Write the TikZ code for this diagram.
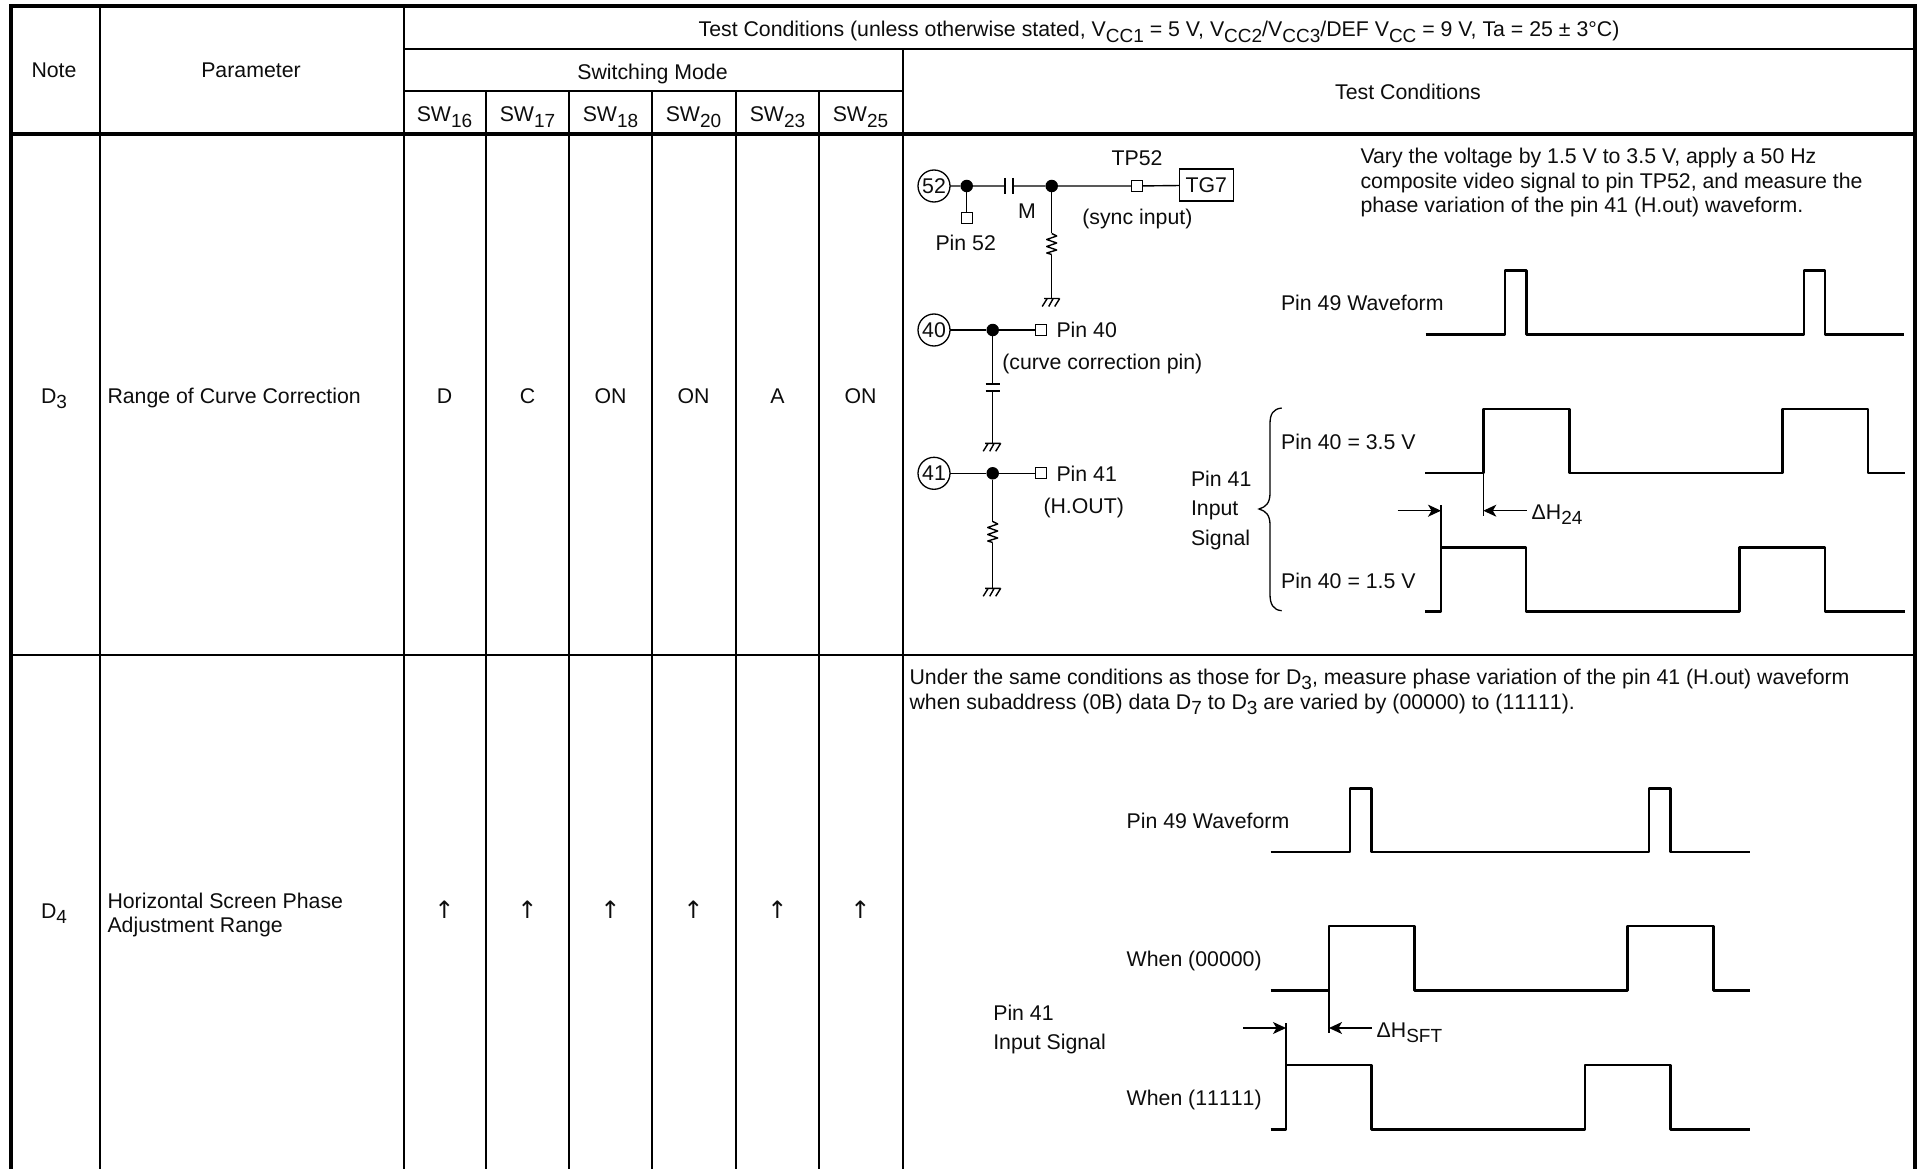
\documentclass[tikz,border=0pt]{standalone}
\usepackage{fontspec}
\setmainfont{Liberation Sans}
\newfontfamily\arrowfont{DejaVu Sans}
\usetikzlibrary{arrows.meta}
\newcommand{\sbs}[1]{\raisebox{-.28em}{\fontsize{19}{19}\selectfont #1}}
\newcommand{\upa}{{\arrowfont\fontsize{24}{24}\selectfont ↑}}
\newcommand{\nokern}{\addfontfeature{Kerning=Off}}
\tikzset{
  x=1pt,y=-1pt,
  every node/.style={inner sep=0pt,outer sep=0pt,font=\fontsize{21.3}{25}\selectfont,text=black!95},
  lbl/.style={anchor=base west,align=left},
  ctr/.style={anchor=base},
  heavy/.style={line width=4.2pt},
  rule/.style={line width=2pt},
  wave/.style={line width=2.6pt,line join=round},
  wire/.style={line width=1.4pt},
  dimline/.style={line width=1.3pt,-{Stealth[length=13pt,width=12pt,inset=3.5pt]}},
  refline/.style={line width=1.4pt},
  pincircle/.style={circle,draw,line width=1.3pt,minimum size=32pt},
  junction/.style={circle,fill=black,minimum size=12.5pt},
  testpad/.style={rectangle,draw,fill=white,line width=1.3pt,minimum size=11pt},
  plate/.style={line width=2.4pt},
  resistor/.pic={\draw[wire,line join=round] (0,0)--(5,2.5)--(-5,6)--(5,9.5)--(-5,13)--(5,16.5)--(-5,19.5)--(0,21);},
  earth/.pic={\draw[wire] (-7.5,0)--(8,0) (-4.5,0)--(-9.5,8) (1.5,0)--(-3,8) (8,0)--(3,8);},
}
\begin{document}
\begin{tikzpicture}
\useasboundingbox (0,0) rectangle (1917,1169);
\fill[white] (0,0) rectangle (1917,1169);
% table rules
\draw[rule] (403.5,5.7)--(403.5,1169);
\draw[rule] (100,5.7)--(100,1169);
\draw[rule] (403.5,48.7)--(1915,48.7);
\draw[rule] (403.5,90.7)--(903,90.7);
\draw[rule] (903,48.7)--(903,1169);
\foreach \cx in {486,569,652,736,819} \draw[rule] (\cx,90.7)--(\cx,1169);
\draw[rule] (11,655)--(1915,655);
\draw[heavy] (11,1169)--(11,5.7)--(1915,5.7)--(1915,1169);
\draw[heavy] (11,133.7)--(1915,133.7);
% header text
\node[ctr] (hnote) at (54,78) {Note};
\node[ctr] (hparam) at (251,78) {Parameter};
\node[ctr] (htop) at (1159,37) {Test Conditions (unless otherwise stated, V\sbs{CC1} = 5 V, V\sbs{CC2}/V\sbs{CC3}/DEF V\sbs{CC} = 9 V, Ta = 25 ± 3°C)};
\node[ctr] (hsw) at (652.5,79.5) {Switching Mode};
\node[ctr] (htc) at (1408,100) {Test Conditions};
\node[ctr] (s16) at (444.5,122) {SW\sbs{16}};
\node[ctr] (s17) at (527.5,122) {SW\sbs{17}};
\node[ctr] (s18) at (610.5,122) {SW\sbs{18}};
\node[ctr] (s20) at (693.5,122) {SW\sbs{20}};
\node[ctr] (s23) at (777.5,122) {SW\sbs{23}};
\node[ctr] (s25) at (860.5,122) {SW\sbs{25}};
% row D3
\node[ctr] (d3) at (54,403) {D\sbs{3}};
\node[lbl] (p3) at (107.5,403) {Range of Curve Correction};
\node[ctr] (a1) at (444.5,403) {D};
\node[ctr] (a2) at (527.5,403) {C};
\node[ctr] (a3) at (610.5,403) {ON};
\node[ctr] (a4) at (693.5,403) {ON};
\node[ctr] (a5) at (777.5,403) {A};
\node[ctr] (a6) at (860.5,403) {ON};
% row D4
\node[ctr] (d4) at (54,918) {D\sbs{4}};
\node[lbl] (p4a) at (107.5,908) {Horizontal Screen Phase};
\node[lbl] (p4b) at (107.5,932) {Adjustment Range};
\node[ctr] (b1) at (444.5,918) {\upa};
\node[ctr] (b2) at (527.5,918) {\upa};
\node[ctr] (b3) at (610.5,918) {\upa};
\node[ctr] (b4) at (693.5,918) {\upa};
\node[ctr] (b5) at (777.5,918) {\upa};
\node[ctr] (b6) at (860.5,918) {\upa};
% circuit
\node[pincircle] (c52) at (934,186) {52};
\node[junction] (j52) at (966.7,186) {};
\coordinate (capa) at (1005,186);
\coordinate (capb) at (1013,186);
\node[junction] (jm) at (1051.7,186) {};
\node[testpad] (tp) at (1136.7,186) {};
\node[draw,line width=1.4pt,minimum width=54pt,minimum height=32pt] (tg) at (1206.3,185.2) {TG7};
\node[testpad] (pad52) at (966.7,217.7) {};
\draw[wire] (c52)--(j52)--(capa) (capb)--(jm)--(tp)--(tg);
\draw[plate] (1005,178)--(1005,194) (1013,178)--(1013,194);
\draw[wire] (j52)--(pad52);
\coordinate (r1a) at (1051.7,233.5);
\coordinate (r1b) at (1051.7,254.5);
\coordinate (g1) at (1051.7,298.5);
\draw[wire] (jm)--(r1a) (r1b)--(g1);
\pic at (r1a) {resistor};
\pic at (g1) {earth};
\node[ctr] (ltp) at (1137,166) {TP52};
\node[ctr] (lm) at (1027,219) {M};
\node[lbl] (lsync) at (1082.3,225) {(sync input)};
\node[lbl] (lp52) at (935.5,251) {Pin 52};

\node[pincircle] (c40) at (934,330) {40};
\node[junction] (j40) at (992.7,330) {};
\node[testpad] (pad40) at (1041,330) {};
\draw[wire] (c40)--(j40)--(pad40);
\coordinate (cpa) at (992.7,384);
\coordinate (cpb) at (992.7,391);
\coordinate (g2) at (992.7,443.3);
\draw[wire] (j40)--(cpa) (cpb)--(g2);
\draw[plate] (985.5,384)--(1000,384) (985.5,391)--(1000,391);
\pic at (g2) {earth};
\node[lbl] (lp40) at (1056.5,337) {Pin 40};
\node[lbl] (lcc) at (1002.3,369) {(curve correction pin)};

\node[pincircle] (c41) at (934,473.3) {41};
\node[junction] (j41) at (992.7,473.3) {};
\node[testpad] (pad41) at (1041,473.3) {};
\draw[wire] (c41)--(j41)--(pad41);
\coordinate (r2a) at (992.7,521.5);
\coordinate (r2b) at (992.7,542.5);
\coordinate (g3) at (992.7,588.3);
\draw[wire] (j41)--(r2a) (r2b)--(g3);
\pic at (r2a) {resistor};
\pic at (g3) {earth};
\node[lbl] (lp41) at (1056.5,481) {Pin 41};
\node[lbl] (lhout) at (1043.5,513) {(H.OUT)};
\node[lbl] (ls1) at (1191,486) {Pin 41};
\node[lbl] (ls2) at (1191,515) {Input};
\node[lbl] (ls3) at (1191,545) {Signal};
% brace
\draw[line width=1.3pt] (1281.7,408) .. controls (1273,409) and (1270,414) .. (1270,424)
  -- (1270,493) .. controls (1270,503) and (1266,507) .. (1259,509)
  .. controls (1266,511) and (1270,515) .. (1270,525)
  -- (1270,594) .. controls (1270,604) and (1273,610) .. (1281.7,610.7);
% D3 text
\node[lbl] (t1) at (1360.5,163.3) {Vary the voltage by 1.5 V to 3.5 V, apply a 50 Hz};
\node[lbl] (t2) at (1360.5,188.3) {composite video signal to pin TP52, and measure the};
\node[lbl] (t3) at (1360.5,212.5) {phase variation of the pin 41 (H.out) waveform.};
\node[lbl] (w49) at (1281,310) {Pin 49 Waveform};
\node[lbl] (w35) at (1281.2,449) {Pin 40 = 3.5 V};
\node[lbl] (w15) at (1281.2,588.5) {Pin 40 = 1.5 V};
% D3 waves
\draw[wave] (1425.5,334.7)-|(1505,270.7)-|(1526.5,334.7)-|(1804,270.7)-|(1825,334.7)--(1904,334.7);
\draw[wave] (1425,473)-|(1483.3,409)-|(1569.3,473)-|(1782.7,409)-|(1868,473)--(1905,473);
\draw[wave] (1425,611.7)-|(1441,547.7)-|(1526,611.7)-|(1739.3,547.7)-|(1825,611.7)--(1905,611.7);
\coordinate (e1) at (1483.3,473);
\coordinate (e1b) at (1483.3,516);
\coordinate (e2) at (1441,547.7);
\coordinate (e2b) at (1441,505);
\coordinate (m1) at (1483.3,510.7);
\coordinate (m2) at (1441,510.7);
\coordinate (f1) at (1526.7,510.7);
\coordinate (f2) at (1397.7,510.7);
\draw[refline] (e1)--(e1b) (e2)--(e2b);
\draw[dimline] (f1)--(m1);
\draw[dimline] (f2)--(m2);
\node[lbl] (dh24) at (1531.7,519) {ΔH\sbs{24}};
% D4 text
\node[lbl] (u1) at (909.6,684) {\nokern Under the same conditions as those for D\sbs{3}, measure phase variation of the pin 41 (H.out) waveform};
\node[lbl] (u2) at (909.6,709) {\nokern when subaddress (0B) data D\sbs{7} to D\sbs{3} are varied by (00000) to (11111).};
\node[lbl] (x49) at (1126.7,828.3) {Pin 49 Waveform};
\node[lbl] (x0) at (1126.7,966) {When (00000)};
\node[lbl] (x1) at (1126.7,1105) {\nokern When (11111)};
\node[lbl] (x41) at (993.3,1020) {Pin 41};
\node[lbl] (xin) at (993.3,1049.3) {Input Signal};
% D4 waves
\draw[wave] (1270.7,852)-|(1350,788.3)-|(1371.7,852)-|(1649,788.3)-|(1670.3,852)--(1750,852);
\draw[wave] (1270.7,990.7)-|(1329,926)-|(1414.3,990.7)-|(1627.3,926)-|(1713.3,990.7)--(1750,990.7);
\draw[wave] (1270.7,1129.3)-|(1286,1065)-|(1371.7,1129.3)-|(1585,1065)-|(1670.3,1129.3)--(1750,1129.3);
\coordinate (q1) at (1329,990.7);
\coordinate (q1b) at (1329,1033.3);
\coordinate (q2) at (1286,1065);
\coordinate (q2b) at (1286,1023.3);
\coordinate (n1) at (1329,1028);
\coordinate (n2) at (1286,1028);
\coordinate (k1) at (1371.7,1028);
\coordinate (k2) at (1243.3,1028);
\draw[refline] (q1)--(q1b) (q2)--(q2b);
\draw[dimline] (k1)--(n1);
\draw[dimline] (k2)--(n2);
\node[lbl] (dhs) at (1376.7,1037) {ΔH\sbs{SFT}};
\end{tikzpicture}
\end{document}
